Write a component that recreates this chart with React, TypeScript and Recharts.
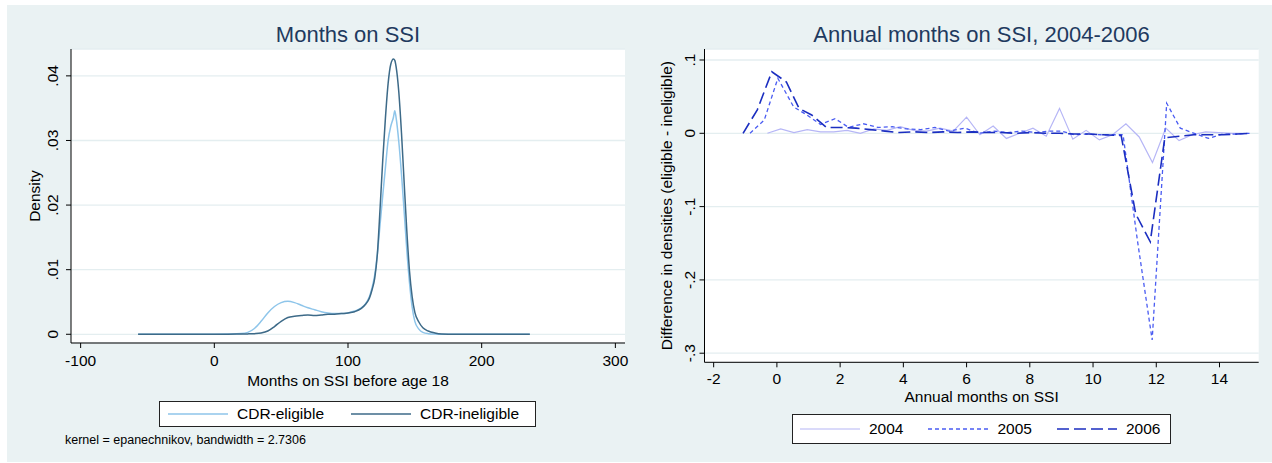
import React from 'react';
import { LineChart, Line, XAxis, YAxis, CartesianGrid, Label } from 'recharts';

const FONT = '"Liberation Sans", Arial, Helvetica, sans-serif';
const TITLE_COLOR = '#1F3A5F';
const PANEL_BG = '#EAF2F3';
const GRID = '#E4EEF0';

// ---- Kernel densities of months on SSI before age 18 ----
const monthsGrid = [
  -57, -30, 0, 10, 20, 25, 30, 35, 40, 45, 50, 55, 60, 65, 70, 75, 80, 85, 90, 95,
  100, 105, 110, 113, 116, 118, 120, 122, 124, 126, 128, 130, 132, 134, 135, 136,
  138, 140, 142, 144, 146, 148, 150, 153, 156, 160, 165, 170, 180, 200, 236,
];
const eligibleDensity = [
  0, 0, 0.00002, 0.00005, 0.00012, 0.0003, 0.0009, 0.002, 0.0033, 0.0043, 0.0049,
  0.0051, 0.0049, 0.0045, 0.0041, 0.0038, 0.0035, 0.0033, 0.0032, 0.0032, 0.0033,
  0.0036, 0.0041, 0.0047, 0.0058, 0.0072, 0.0092, 0.0125, 0.017, 0.0215, 0.0258,
  0.03, 0.0322, 0.0336, 0.0346, 0.0335, 0.0298, 0.0248, 0.019, 0.013, 0.008, 0.0042,
  0.002, 0.0008, 0.0003, 0.0001, 0.00003, 0, 0, 0, 0,
];
const ineligibleDensity = [
  0, 0, 0.00001, 0.00002, 0.00004, 0.00006, 0.0001, 0.0002, 0.0005, 0.0012, 0.002,
  0.0026, 0.0028, 0.0029, 0.003, 0.0029, 0.003, 0.0031, 0.0031, 0.0032, 0.0033,
  0.0035, 0.004, 0.0046, 0.0056, 0.0069, 0.0087, 0.0125, 0.0195, 0.027, 0.0335,
  0.0388, 0.0418, 0.0426, 0.0424, 0.0414, 0.0375, 0.0312, 0.0235, 0.016, 0.0098,
  0.0058, 0.0034, 0.0019, 0.001, 0.0005, 0.0002, 0.00005, 0, 0, 0,
];
const densityTicks = [0, 0.01, 0.02, 0.03, 0.04];
const monthTicks = [-100, 0, 100, 200, 300];

// ---- Difference in densities by year ----
const months2004 = [
  -0.3, 0.12, 0.54, 0.96, 1.38, 1.8, 2.22, 2.64, 3.06, 3.48, 3.9, 4.32, 4.74, 5.16,
  5.58, 6.0, 6.42, 6.84, 7.26, 7.68, 8.1, 8.52, 8.94, 9.36, 9.78, 10.2, 10.62, 11.04,
  11.46, 11.88, 12.3, 12.72, 13.14, 13.56, 13.98, 14.4, 14.82,
];
const diff2004 = [
  0, 0.006, 0.001, 0.005, 0.002, 0.002, 0.004, 0, 0.006, 0.004, 0.009, 0.004, 0.003,
  0.007, 0.003, 0.022, -0.002, 0.01, -0.007, 0, 0.007, -0.004, 0.034, -0.008, 0.004,
  -0.009, -0.002, 0.013, -0.005, -0.04, 0.007, -0.01, -0.002, 0.002, 0.001, 0, 0,
];
const months2005 = [
  -0.85, -0.4, 0.03, 0.53, 0.95, 1.38, 1.84, 2.27, 2.73, 3.19, 3.65, 4.1, 4.55, 5.0,
  5.45, 5.95, 6.4, 6.85, 7.3, 7.75, 8.2, 8.65, 9.0, 9.4, 9.8, 10.25, 10.65, 10.95,
  11.4, 11.87, 12.33, 12.76, 13.2, 13.65, 14.1, 14.55, 14.95,
];
const diff2005 = [
  0, 0.018, 0.075, 0.036, 0.025, 0.012, 0.02, 0.008, 0.013, 0.008, 0.009, 0.006,
  0.005, 0.008, 0.003, 0.007, 0, 0.003, 0.001, 0.003, 0.001, 0.003, 0.003, -0.002,
  -0.001, -0.002, -0.002, -0.002, -0.145, -0.282, 0.041, 0.007, 0, -0.007, -0.001,
  -0.001, 0,
];
const months2006 = [
  -1.07, -0.62, -0.16, 0.3, 0.7, 1.1, 1.57, 2.05, 2.5, 2.96, 3.42, 3.88, 4.34, 4.8,
  5.26, 5.72, 6.18, 6.64, 7.1, 7.56, 8.02, 8.48, 8.94, 9.4, 9.86, 10.32, 10.89, 11.35,
  11.81, 12.27, 12.73, 13.19, 13.65, 14.11, 14.57, 15.0,
];
const diff2006 = [
  0, 0.032, 0.084, 0.07, 0.034, 0.025, 0.008, 0.008, 0.007, 0.005, 0.003, 0.001,
  0.002, 0.001, 0.002, 0.001, 0.002, 0.001, 0.001, 0, 0.001, 0, 0, -0.001, -0.001,
  -0.002, -0.003, -0.11, -0.148, -0.006, -0.004, -0.002, -0.002, -0.002, -0.001, 0,
];
const annualTicks = [-2, 0, 2, 4, 6, 8, 10, 12, 14];
const diffTicks = [-0.3, -0.2, -0.1, 0, 0.1];

const densityRows = monthsGrid.map((m, i) => ({
  m,
  eligible: eligibleDensity[i],
  ineligible: ineligibleDensity[i],
}));

const densitySeries = [
  { key: 'eligible', name: 'CDR-eligible', color: '#8EC5EA', width: 1.5, dash: undefined },
  { key: 'ineligible', name: 'CDR-ineligible', color: '#3D6A88', width: 1.5, dash: undefined },
];

const yearSeries = [
  { name: '2004', xs: months2004, ys: diff2004, color: '#B6B6F6', width: 1.2, dash: undefined },
  { name: '2005', xs: months2005, ys: diff2005, color: '#4A5CF2', width: 1.3, dash: '4 3' },
  { name: '2006', xs: months2006, ys: diff2006, color: '#1B2EC0', width: 1.6, dash: '12 5' },
].map((s) => ({ ...s, data: s.xs.map((x, i) => ({ x, y: s.ys[i] })) }));

// Stata-style numbers: drop the leading zero (".04", "-.1")
const fmt = (v: number) => {
  const s = String(+v.toFixed(4));
  return s.replace(/^(-?)0\./, '$1.');
};

const tickText = { fill: '#000', fontSize: 15.5, fontFamily: FONT };

const rotatedTick = (gap: number) => (props: any) => {
  const { x, y, payload } = props;
  const cx = x - (gap - 5);
  return (
    <g transform={`translate(${cx},${y}) rotate(-90)`}>
      <text textAnchor="middle" dy="0.36em" fontSize={15.5} fontFamily={FONT} fill="#000">
        {fmt(payload.value)}
      </text>
    </g>
  );
};

const yTitle = (text: string, gap: number) => (props: any) => {
  const { x, y, width, height } = props.viewBox;
  const cx = x + width - gap;
  const cy = y + height / 2;
  return (
    <text
      x={cx}
      y={cy}
      dy="0.36em"
      textAnchor="middle"
      transform={`rotate(-90, ${cx}, ${cy})`}
      fontSize={15.5}
      fontFamily={FONT}
      fill="#000"
    >
      {text}
    </text>
  );
};

const xTitle = (text: string, dist: number) => (props: any) => {
  const { x, y, width } = props.viewBox;
  return (
    <text
      x={x + width / 2}
      y={y + dist}
      dy="0.36em"
      textAnchor="middle"
      fontSize={15.5}
      fontFamily={FONT}
      fill="#000"
    >
      {text}
    </text>
  );
};

type LegendItem = { name: string; color: string; width: number; dash?: string };

const LegendBox = ({
  items,
  left,
  top,
  width,
  height,
  pad,
  gap,
}: {
  items: LegendItem[];
  left: number;
  top: number;
  width: number;
  height: number;
  pad: number;
  gap: number;
}) => (
  <div
    style={{
      position: 'absolute',
      left,
      top,
      width,
      height,
      boxSizing: 'border-box',
      border: '1px solid #222',
      background: '#fff',
      display: 'flex',
      alignItems: 'center',
      paddingLeft: pad,
      fontFamily: FONT,
      fontSize: 15.5,
      color: '#000',
    }}
  >
    {items.map((it, i) => (
      <div key={it.name} style={{ display: 'flex', alignItems: 'center', marginLeft: i === 0 ? 0 : gap }}>
        <svg width={60} height={6} style={{ display: 'block' }}>
          <line x1={0} y1={3} x2={60} y2={3} stroke={it.color} strokeWidth={it.width} strokeDasharray={it.dash} />
        </svg>
        <span style={{ marginLeft: 9, whiteSpace: 'nowrap' }}>{it.name}</span>
      </div>
    ))}
  </div>
);

const Title = ({ text, cx, cy }: { text: string; cx: number; cy: number }) => (
  <div
    style={{
      position: 'absolute',
      left: cx - 300,
      width: 600,
      top: cy - 0.49 * 22,
      textAlign: 'center',
      fontFamily: FONT,
      fontSize: 22,
      lineHeight: '22px',
      color: TITLE_COLOR,
      whiteSpace: 'nowrap',
    }}
  >
    {text}
  </div>
);

export default function App() {
  return (
    <div
      style={{
        position: 'absolute',
        left: 0,
        top: 0,
        width: 1272,
        height: 463,
        background: '#fff',
        overflow: 'hidden',
      }}
    >
      <div style={{ position: 'absolute', left: 7, top: 5, width: 1265, height: 457, background: PANEL_BG }} />

      {/* Left panel: kernel densities */}
      <div style={{ position: 'absolute', left: 0, top: 0 }}>
        <LineChart width={640} height={463} data={densityRows} margin={{ top: 49, right: 15, bottom: 100, left: 0 }}>
          <CartesianGrid fill="#fff" stroke={GRID} strokeWidth={1.3} vertical={false} />
          <XAxis
            type="number"
            dataKey="m"
            domain={[-107.2, 307.2]}
            ticks={monthTicks}
            interval={0}
            height={20}
            tickSize={5}
            tickMargin={7}
            axisLine={{ stroke: '#000' }}
            tickLine={{ stroke: '#000' }}
            tick={tickText}
          >
            <Label content={xTitle('Months on SSI before age 18', 37)} />
          </XAxis>
          <YAxis
            type="number"
            domain={[-0.00135, 0.04416]}
            ticks={densityTicks}
            interval={0}
            width={71}
            tickSize={5}
            tickMargin={0}
            axisLine={{ stroke: '#000' }}
            tickLine={{ stroke: '#000' }}
            tick={rotatedTick(18.5)}
          >
            <Label content={yTitle('Density', 37)} />
          </YAxis>
          {densitySeries.map((s) => (
            <Line
              key={s.key}
              type="monotone"
              dataKey={s.key}
              name={s.name}
              stroke={s.color}
              strokeWidth={s.width}
              dot={false}
              isAnimationActive={false}
            />
          ))}
        </LineChart>
      </div>

      {/* Right panel: yearly differences */}
      <div style={{ position: 'absolute', left: 640, top: 0 }}>
        <LineChart width={632} height={463} margin={{ top: 49, right: 13.3, bottom: 80.7, left: 0 }}>
          <CartesianGrid fill="#fff" stroke={GRID} strokeWidth={1.3} vertical={false} />
          <XAxis
            type="number"
            dataKey="x"
            domain={[-2.29, 15.24]}
            ticks={annualTicks}
            interval={0}
            height={20}
            tickSize={5}
            tickMargin={6}
            axisLine={{ stroke: '#000' }}
            tickLine={{ stroke: '#000' }}
            tick={tickText}
            allowDuplicatedCategory={false}
          >
            <Label content={xTitle('Annual months on SSI', 34.4)} />
          </XAxis>
          <YAxis
            type="number"
            dataKey="y"
            domain={[-0.3124, 0.115]}
            ticks={diffTicks}
            interval={0}
            width={64.5}
            tickSize={5}
            tickMargin={0}
            axisLine={{ stroke: '#000' }}
            tickLine={{ stroke: '#000' }}
            tick={rotatedTick(15.5)}
          >
            <Label content={yTitle('Difference in densities (eligible - ineligible)', 37.8)} />
          </YAxis>
          {yearSeries.map((s) => (
            <Line
              key={s.name}
              data={s.data}
              type="linear"
              dataKey="y"
              name={s.name}
              stroke={s.color}
              strokeWidth={s.width}
              strokeDasharray={s.dash}
              dot={false}
              isAnimationActive={false}
            />
          ))}
        </LineChart>
      </div>

      <Title text="Months on SSI" cx={348} cy={34.7} />
      <Title text="Annual months on SSI, 2004-2006" cx={981.5} cy={34.7} />

      <LegendBox items={densitySeries} left={159} top={401} width={377} height={26} pad={8} gap={27} />
      <LegendBox items={yearSeries} left={791.5} top={414.3} width={379} height={30} pad={7.5} gap={25} />

      <div
        style={{
          position: 'absolute',
          left: 65,
          top: 440 - 0.49 * 12.5,
          fontFamily: FONT,
          fontSize: 12.5,
          lineHeight: '12.5px',
          color: '#000',
          whiteSpace: 'nowrap',
        }}
      >
        kernel = epanechnikov, bandwidth = 2.7306
      </div>
    </div>
  );
}
